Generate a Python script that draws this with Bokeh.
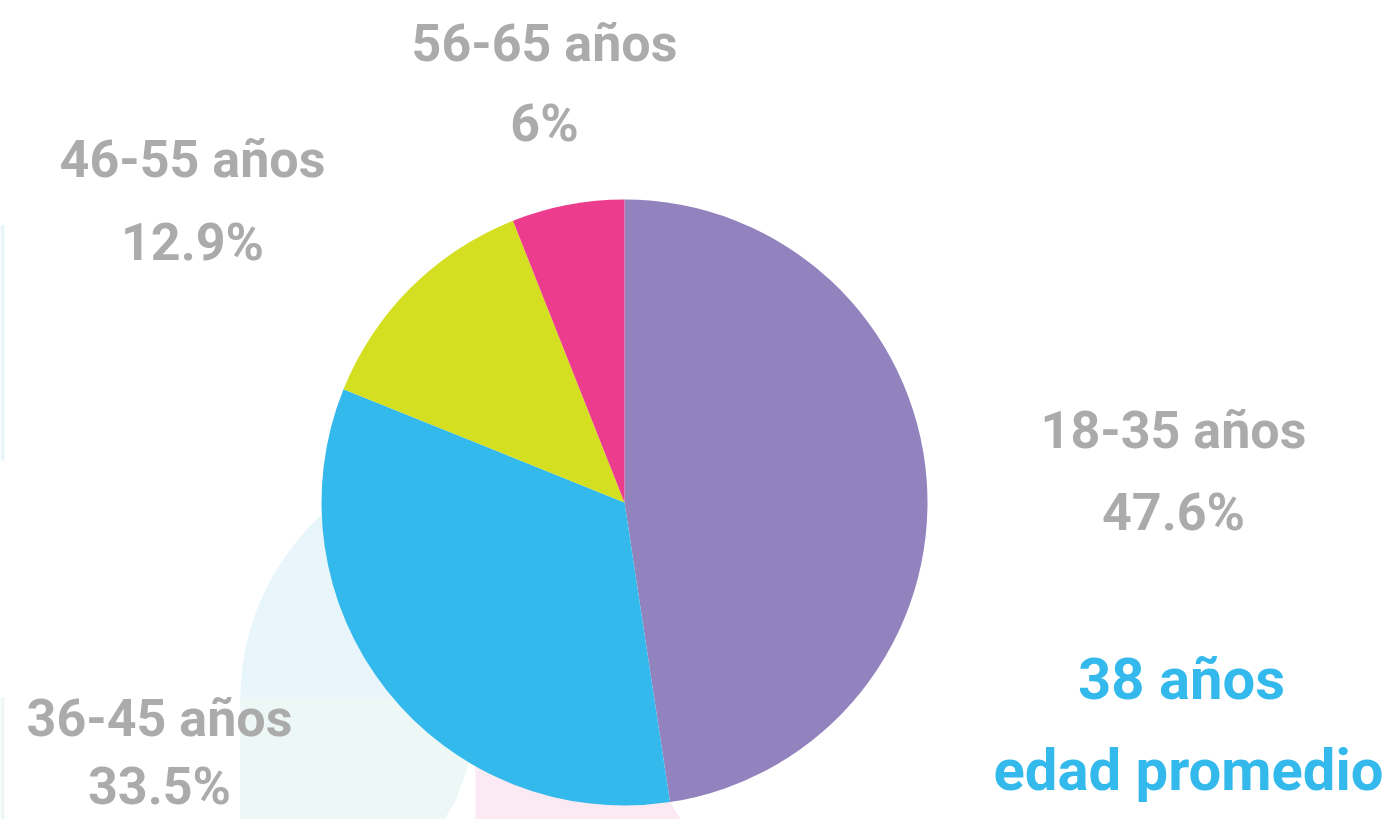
import math
import numpy as np
from bokeh.plotting import figure
from bokeh.models import Range1d, ColumnDataSource
from bokeh.core.properties import value
from bokeh.embed import file_html
from bokeh.resources import INLINE

# ---- data ----
categories = ["18-35 años", "36-45 años", "46-55 años", "56-65 años"]
shares = [47.6, 33.5, 12.9, 6.0]
colors = ["#9283BE", "#33B9EB", "#D5DF21", "#EC3C8E"]
avg_age_title = "38 años"
avg_age_sub = "edad promedio"

# ---- layout (reference pixel space) ----
W, H = 1399, 835
FW, FH = 1383, 819
BASE_FIX = 19  # svg text baseline correction
def Y(ypix):
    return H - ypix

def TY(ypix):
    return H - (ypix - BASE_FIX)

CX, CY, R = 624, 502, 303
# (x centre, baseline line 1, baseline line 2)
label_pos = [(1173, 449, 531), (159, 737, 805), (192, 178, 261), (544, 62, 142)]
FONT = "Roboto"
GRAY = "#ABABAB"
BLUE = "#33B9EB"

p = figure(width=FW, height=FH, output_backend="svg",
           toolbar_location=None, x_axis_type=None, y_axis_type=None,
           x_range=Range1d(0, FW), y_range=Range1d(H - FH, H),
           min_border=0, background_fill_color="white",
           border_fill_color="white", outline_line_color=None)
p.grid.visible = False

# ---- faint background decorations ----
t = np.linspace(math.pi, math.pi * 0.62, 30)
ax = list(520 + 280 * np.cos(t))
ay = list(697 - 260 * np.sin(t))
arch_x = [240] + ax + [472, 466, 455, 443, 433]
arch_y = [835] + ay + [740, 770, 800, 820, 835]
p.patch(arch_x, [Y(v) for v in arch_y], fill_color="#E8F6FC", line_color=None)
low_x = [240, 240, 472, 472, 466, 455, 443, 433]
low_y = [835, 697, 697, 740, 770, 800, 820, 835]
p.patch(low_x, [Y(v) for v in low_y], fill_color="#EDF7F6", line_color=None)
pink_x = [475, 475, 600, 640, 655, 670, 690]
pink_y = [835, 700, 700, 740, 775, 802, 835]
p.patch(pink_x, [Y(v) for v in pink_y], fill_color="#FBEAF3", line_color=None)
p.quad(left=[0, 0], right=[4, 4], top=[Y(225), Y(697)], bottom=[Y(460), Y(835)],
       fill_color=["#E8F6FC", "#EDF7F6"], line_color=None)

# ---- pie ----
total = sum(shares)
starts, ends = [], []
acc = 0.0
for s in shares:
    starts.append(math.pi / 2 - 2 * math.pi * acc / total)
    acc += s
    ends.append(math.pi / 2 - 2 * math.pi * acc / total)
src = ColumnDataSource(dict(start=starts, end=ends, color=colors, cat=categories))
p.wedge(x=CX, y=Y(CY), radius=R, start_angle="start", end_angle="end",
        direction="clock", fill_color="color", line_color=None, source=src)

# ---- labels ----
for cat, s, (lx, b1, b2) in zip(categories, shares, label_pos):
    p.text(x=[lx, lx], y=[TY(b1), TY(b2)], text=[cat, f"{s:g}%"],
           text_font=value(FONT), text_font_size="52px", text_font_style="bold",
           text_color=GRAY, text_align="center", text_baseline="alphabetic")

p.text(x=[1181, 1188], y=[TY(697), TY(788)], text=[avg_age_title, avg_age_sub],
       text_font=value(FONT), text_font_size="58px", text_font_style="bold",
       text_color=BLUE, text_align="center", text_baseline="alphabetic")

open("out.html", "w").write(file_html(p, INLINE))
